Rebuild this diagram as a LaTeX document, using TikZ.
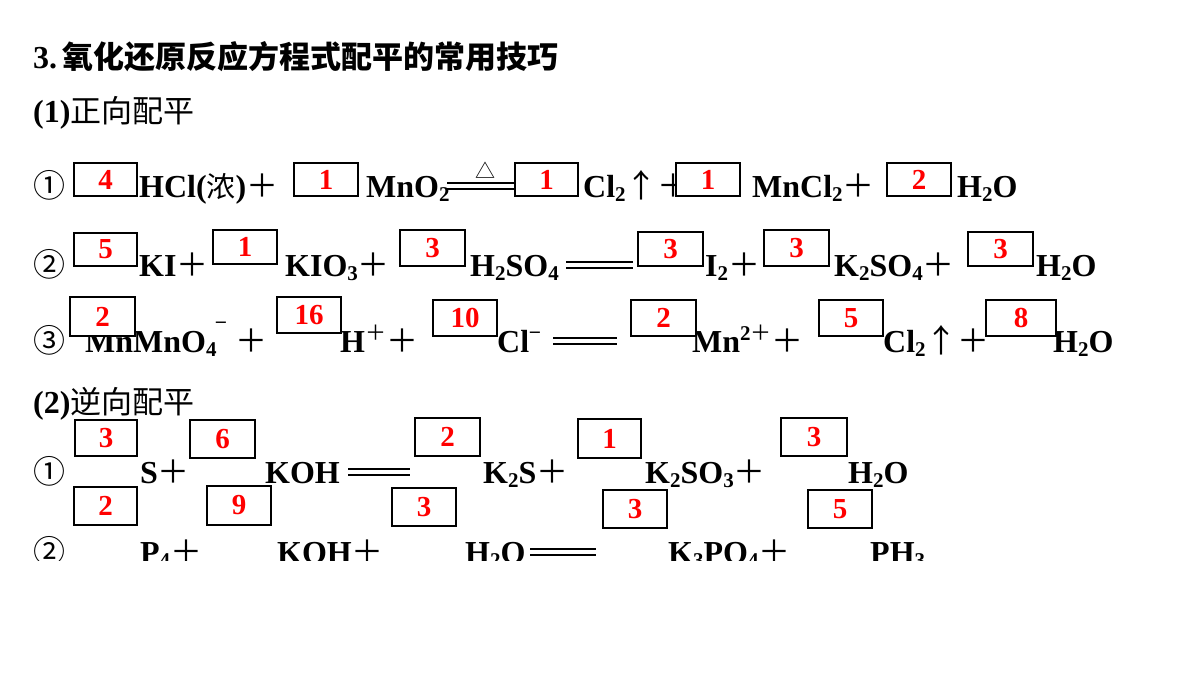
\documentclass[tikz,border=0pt]{standalone}
\usepackage{fontspec}
\setmainfont{Liberation Serif}
\newfontfamily\cjk{Noto Sans CJK SC}
\newcommand{\sbs}[1]{\raisebox{-0.3ex}{\fontsize{21}{21}\selectfont #1}}
\newcommand{\sps}[1]{\raisebox{0.8ex}{\fontsize{21}{21}\selectfont #1}}
\newcommand{\pl}{{\cjk\mdseries ＋}}
\begin{document}
\begin{tikzpicture}[x=1pt,y=-1pt,
  t/.style={anchor=base west,inner sep=0pt,font=\fontsize{32}{32}\selectfont\bfseries},
  bx/.style={draw,line width=1.2pt,fill=white,text=red,font=\fontsize{29}{29}\selectfont\bfseries,inner sep=0pt},
  eq/.style={line width=1.3pt}]
\useasboundingbox (0,0) rectangle (1200,675);
\fill[white] (0,0) rectangle (1200,675);
\newcommand{\B}[6]{\node[bx,minimum width=#4-#2,minimum height=#5-#3] (#1) at ({(#2+#4)/2},{(#3+#5)/2}) {#6};}
\newcommand{\EQ}[4]{\coordinate (#1a) at (#2,#4-8); \coordinate (#1b) at (#3,#4-8);
  \draw[eq] (#1a) -- (#1b); \draw[eq] ([yshift=6]#1a) -- ([yshift=6]#1b);}
% title
\node[t] (ti) at (33,68) {3.\,{\cjk\bfseries\fontsize{31}{31}\selectfont 氧化还原反应方程式配平的常用技巧}};
\node[t] (s1) at (33,122) {(1){\cjk\mdseries\fontsize{31}{31}\selectfont 正向配平}};
% row 1
\node[t] (a0) at (33,197) {\cjk\mdseries ①};
\node[t] (a1) at (139,197) {HCl({\cjk\mdseries\fontsize{29}{29}\selectfont 浓})\pl};
\node[t] (a2) at (366,197) {MnO\sbs{2}};
\EQ{e1}{447}{515}{197}
\node[anchor=base] (tri) at (485,178) {\cjk\fontsize{20}{20}\selectfont △};
\node[t] (a3) at (583,197) {Cl\sbs{2}{\cjk\mdseries ↑}\pl};
\node[t] (a4) at (752,197) {MnCl\sbs{2}\pl};
\node[t] (a5) at (957,197) {H\sbs{2}O};
\B{b11}{74}{163}{137}{196}{4}
\B{b12}{294}{163}{358}{196}{1}
\B{b13}{515}{163}{578}{196}{1}
\B{b14}{676}{163}{740}{196}{1}
\B{b15}{887}{163}{951}{196}{2}
% row 2
\node[t] (c0) at (33,276) {\cjk\mdseries ②};
\node[t] (c1) at (139,276) {KI\pl};
\node[t] (c2) at (285,276) {KIO\sbs{3}\pl};
\node[t] (c3) at (470,276) {H\sbs{2}SO\sbs{4}};
\EQ{e2}{566}{633}{276}
\node[t] (c4) at (705,276) {I\sbs{2}\pl};
\node[t] (c5) at (834,276) {K\sbs{2}SO\sbs{4}\pl};
\node[t] (c6) at (1036,276) {H\sbs{2}O};
\B{b21}{74}{233}{137}{266}{5}
\B{b22}{213}{230}{277}{264}{1}
\B{b23}{400}{230}{465}{266}{3}
\B{b24}{638}{232}{703}{266}{3}
\B{b25}{764}{230}{829}{266}{3}
\B{b26}{968}{232}{1033}{266}{3}
% row 3
\node[t] (d0) at (33,352) {\cjk\mdseries ③};
\node[t] (d1) at (85,352) {MnMnO\sbs{4}};
\node[anchor=base,inner sep=0pt,font=\cjk\fontsize{21}{21}\selectfont] (d1m) at (221,330) {−};
\node[t] (d1p) at (235,352) {\pl};
\node[t] (d2) at (340,352) {H\sps{\cjk\mdseries ＋}\pl};
\node[t] (d3) at (497,352) {Cl\sps{\cjk\mdseries −}};
\EQ{e3}{553}{617}{352}
\node[t] (d4) at (692,352) {Mn\sps{2\cjk\mdseries ＋}\pl};
\node[t] (d5) at (883,352) {Cl\sbs{2}{\cjk\mdseries ↑}\pl};
\node[t] (d6) at (1053,352) {H\sbs{2}O};
\B{b31}{70}{297}{135}{336}{2}
\B{b32}{277}{297}{341}{333}{16}
\B{b33}{433}{300}{497}{336}{10}
\B{b34}{631}{300}{696}{336}{2}
\B{b35}{819}{300}{883}{336}{5}
\B{b36}{986}{300}{1056}{336}{8}
% (2)
\node[t] (s2) at (33,413) {(2){\cjk\mdseries\fontsize{31}{31}\selectfont 逆向配平}};
% row 4
\node[t] (f0) at (33,483) {\cjk\mdseries ①};
\node[t] (f1) at (140,483) {S\pl};
\node[t] (f2) at (265,483) {KOH};
\EQ{e4}{348}{410}{483}
\node[t] (f3) at (483,483) {K\sbs{2}S\pl};
\node[t] (f4) at (645,483) {K\sbs{2}SO\sbs{3}\pl};
\node[t] (f5) at (848,483) {H\sbs{2}O};
\B{b41}{75}{420}{137}{456}{3}
\B{b42}{190}{420}{255}{458}{6}
\B{b43}{415}{418}{480}{456}{2}
\B{b44}{578}{419}{641}{458}{1}
\B{b45}{781}{418}{847}{456}{3}
% row 5 (clipped)
\begin{scope}
\clip (0,0) rectangle (1200,560);
\node[t] (g0) at (33,563) {\cjk\mdseries ②};
\node[t] (g1) at (140,563) {P\sbs{4}\pl};
\node[t] (g2) at (277,563) {KOH\pl};
\node[t] (g3) at (465,563) {H\sbs{2}O};
\EQ{e5}{530}{596}{563}
\node[t] (g4) at (668,563) {K\sbs{3}PO\sbs{4}\pl};
\node[t] (g5) at (870,563) {PH\sbs{3}};
\end{scope}
\B{b51}{74}{487}{137}{525}{2}
\B{b52}{207}{486}{271}{525}{9}
\B{b53}{392}{488}{456}{526}{3}
\B{b54}{603}{490}{667}{528}{3}
\B{b55}{808}{490}{872}{528}{5}
\end{tikzpicture}
\end{document}
